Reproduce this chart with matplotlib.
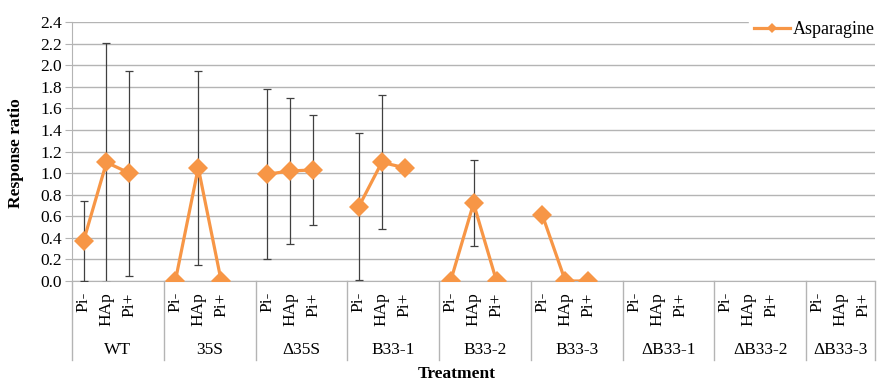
import matplotlib.pyplot as plt
import numpy as np

plt.rcParams['font.family'] = ['Liberation Serif', 'DejaVu Serif']

groups = ["WT", "35S", "\u039435S", "B33-1", "B33-2", "B33-3",
          "\u0394B33-1", "\u0394B33-2", "\u0394B33-3"]
levels = ["Pi-", "HAp", "Pi+"]

# response ratio per group (Pi-, HAp, Pi+); nan = no data
values = [
    [0.37, 1.10, 1.00],
    [0.00, 1.05, 0.00],
    [0.99, 1.02, 1.03],
    [0.69, 1.10, 1.05],
    [0.00, 0.72, 0.00],
    [0.61, 0.00, 0.00],
    [np.nan, np.nan, np.nan],
    [np.nan, np.nan, np.nan],
    [np.nan, np.nan, np.nan],
]
errors = [
    [0.37, 1.11, 0.95],
    [0.00, 0.90, 0.00],
    [0.79, 0.68, 0.51],
    [0.68, 0.62, 0.00],
    [0.00, 0.40, 0.00],
    [0.00, 0.00, 0.00],
    [np.nan, np.nan, np.nan],
    [np.nan, np.nan, np.nan],
    [np.nan, np.nan, np.nan],
]

orange = "#F79646"
grid_c = "#B4B4B4"
fs = 12.5

fig, ax = plt.subplots(figsize=(8.79, 3.82), dpi=100)
fig.subplots_adjust(left=0.082, right=0.9955, top=0.942, bottom=0.2644)

n = len(groups)
width = [4] * (n - 1) + [3]
starts = np.concatenate([[0], np.cumsum(width)[:-1]])

tick_pos, tick_lab = [], []
for g in range(n):
    xs = starts[g] + 0.5 + np.arange(3)
    ys = np.array(values[g])
    es = np.array(errors[g])
    has_err = ~np.isnan(es) & (es > 0)
    if has_err.any():
        ax.errorbar(xs[has_err], ys[has_err], yerr=es[has_err], fmt="none",
                    ecolor="#404040", elinewidth=0.9, capsize=3, capthick=0.9,
                    zorder=3)
    ax.plot(xs, ys, color=orange, lw=2.3, marker="D", ms=10,
            markeredgewidth=0, zorder=4,
            label="Asparagine" if g == 0 else None)
    tick_pos += list(xs)
    tick_lab += levels

ax.set_xlim(0, sum(width))
ax.set_ylim(0, 2.4)
ax.set_yticks(np.arange(0, 2.41, 0.2))
ax.set_yticklabels([f"{v:.1f}" for v in np.arange(0, 2.41, 0.2)], fontsize=fs)
ax.yaxis.grid(True, color=grid_c, lw=1)
ax.set_axisbelow(True)
ax.tick_params(axis="y", length=5, color=grid_c, pad=2)

ax.set_xticks(tick_pos)
ax.set_xticklabels(tick_lab, rotation=90, fontsize=fs)
ax.tick_params(axis="x", length=0, pad=8)

for s in ["top", "right"]:
    ax.spines[s].set_visible(False)
for s in ["left", "bottom"]:
    ax.spines[s].set_color(grid_c)

# group separators and group labels
for x in list(starts) + [sum(width)]:
    ax.plot([x, x], [0, -0.305], transform=ax.get_xaxis_transform(),
            color=grid_c, lw=1, clip_on=False)
for g in range(n):
    ax.text(starts[g] + width[g] / 2, -0.265, groups[g],
            transform=ax.get_xaxis_transform(), ha="center", va="center",
            fontsize=fs)

fig.text(0.52, 0.022, "Treatment", ha="center", va="center",
         fontsize=fs, fontweight="bold")
fig.text(0.018, 0.6, "Response ratio", ha="center", va="center",
         rotation=90, fontsize=fs, fontweight="bold")

leg = ax.legend(loc="upper right", bbox_to_anchor=(1.0, 0.957),
                bbox_transform=fig.transFigure, frameon=True, fontsize=13,
                handlelength=2.0, borderpad=0.25, borderaxespad=0.0,
                handletextpad=0.15, markerscale=0.5)
leg.get_frame().set_facecolor("white")
leg.get_frame().set_edgecolor("white")
leg.get_frame().set_alpha(1)

fig.savefig("out.png", dpi=100)
plt.close(fig)
